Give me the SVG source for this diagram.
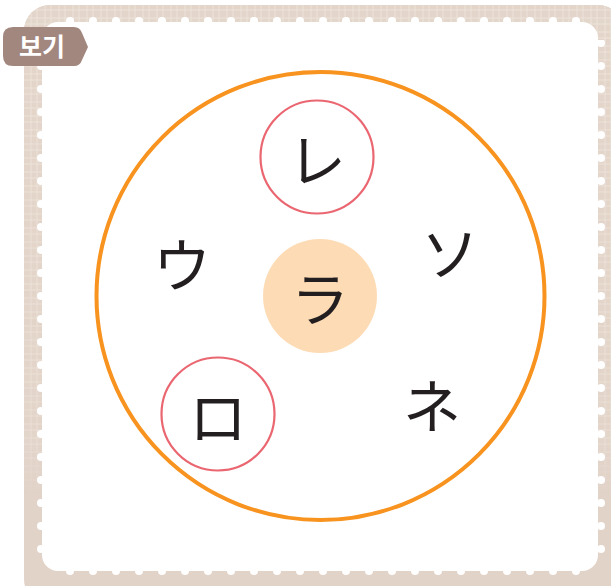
<svg xmlns="http://www.w3.org/2000/svg" width="611" height="586" viewBox="0 0 611 586">
<style>
.ch{font-family:"Noto Sans CJK JP","Noto Sans CJK SC",sans-serif;font-size:58px;font-weight:400;fill:#231f20;text-anchor:middle;dominant-baseline:central}
.ring{fill:none;stroke:#ea6670;stroke-width:2.2}
</style>
<defs>
<pattern id="hatch" width="14" height="14" patternUnits="userSpaceOnUse">
<rect width="14" height="14" fill="#e3d5ca"/>
<path d="M3 0V14M9 0V14M0 4H14M0 10H14" stroke="#f1e8e1" stroke-width="0.7"/>
</pattern>
<linearGradient id="fade" x1="0" y1="0" x2="0" y2="1">
<stop offset="0" stop-color="#fff" stop-opacity="1"/>
<stop offset="0.75" stop-color="#fff" stop-opacity="0.7"/>
<stop offset="0.85" stop-color="#fff" stop-opacity="0"/>
</linearGradient>
<mask id="m"><rect x="0" y="0" width="611" height="586" fill="url(#fade)"/></mask>
<pattern id="dotsH" width="23" height="10" patternUnits="userSpaceOnUse" x="66" y="16">
<circle cx="4" cy="5" r="4" fill="#fff"/>
</pattern>
<pattern id="dotsV" width="10" height="23" patternUnits="userSpaceOnUse" x="36" y="62">
<circle cx="5" cy="4" r="4" fill="#fff"/>
</pattern>
</defs>
<g id="frame">
<rect x="24" y="5" width="600" height="600" rx="26" fill="#e2d3c9"/>
<rect x="24" y="5" width="600" height="600" rx="26" fill="url(#hatch)" mask="url(#m)"/>
<rect x="42" y="22" width="556" height="549" rx="16" fill="#fff"/>
<rect x="60" y="15" width="530" height="10" fill="url(#dotsH)"/>
<rect x="60" y="566" width="530" height="10" fill="url(#dotsH)"/>
<rect x="35" y="40" width="10" height="520" fill="url(#dotsV)"/>
<rect x="596" y="40" width="10" height="520" fill="url(#dotsV)"/>
</g>
<g id="tag">
<path d="M13 27H74Q80 27 82 33L88 47L82 60Q80 66 74 66H13Q3 66 3 56V37Q3 27 13 27Z" fill="#a2877f"/>
<text x="42" y="56" font-family="Noto Sans CJK KR,sans-serif" font-size="25" font-weight="700" fill="#fff" text-anchor="middle">보기</text>
</g>
<g id="outer-circle"><circle cx="320.5" cy="296" r="224" fill="none" stroke="#f7931e" stroke-width="4"/></g>
<g id="node-ra"><circle cx="320" cy="296" r="57" fill="#fddbb4"/><text class="ch" x="320" y="296">ラ</text></g>
<g id="node-re"><circle class="ring" cx="317" cy="157" r="56.5"/><text class="ch" x="317" y="157">レ</text></g>
<g id="node-ro"><circle class="ring" cx="218" cy="414" r="56.5"/><text class="ch" x="218" y="414">ロ</text></g>
<g id="node-u"><text class="ch" x="182" y="262">ウ</text></g>
<g id="node-so"><text class="ch" x="450" y="250">ソ</text></g>
<g id="node-ne"><text class="ch" x="432" y="403">ネ</text></g>
</svg>
